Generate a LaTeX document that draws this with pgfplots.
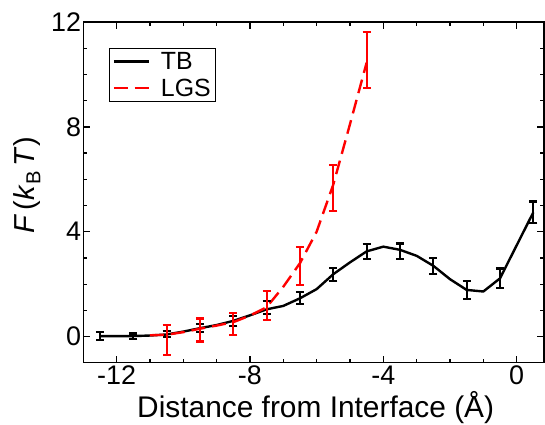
\documentclass[border=0pt]{standalone}
\usepackage{fontspec}
\setmainfont{Liberation Sans}
\usepackage{pgfplots}
\pgfplotsset{compat=1.18}
\usepackage{pgfplotstable}

% TB: curve and error bars
\pgfplotstableread{
x y
-12.5 0.02
-12 0.02
-11.5 0.02
-11 0.04
-10.5 0.08
-10 0.19
-9.5 0.32
-9 0.44
-8.5 0.60
-8 0.81
-7.5 1.04
-7 1.17
-6.5 1.46
-6 1.81
-5.5 2.38
-5 2.83
-4.5 3.25
-4 3.43
-3.5 3.31
-3 3.08
-2.5 2.70
-2 2.19
-1.5 1.78
-1 1.72
-0.5 2.22
0.5 4.74
}\tbline
\pgfplotstableread{
x y e
-12.5 0.02 0.15
-11.5 0.02 0.10
-10.5 0.09 0.12
-9.5 0.32 0.15
-8.5 0.60 0.20
-7.5 1.10 0.25
-6.5 1.46 0.23
-5.5 2.38 0.25
-4.5 3.25 0.28
-3.5 3.25 0.30
-2.5 2.70 0.30
-1.5 1.78 0.34
-0.5 2.22 0.38
0.5 4.74 0.41
}\tbbars

% LGS: curve and error bars
\pgfplotstableread{
x y
-11 0.05
-10.5 0.07
-10 0.17
-9.5 0.30
-9 0.42
-8.5 0.55
-8 0.80
-7.5 1.12
-7 1.90
-6.5 2.80
-6 4.00
-5.5 5.80
-5 8.10
-4.5 10.45
}\lgsline
\pgfplotstableread{
x y e
-10.5 -0.13 0.57
-9.5 0.25 0.44
-8.5 0.48 0.43
-7.5 1.18 0.56
-6.5 2.70 0.73
-5.5 5.66 0.87
-4.5 10.55 1.07
}\lgsbars

\begin{document}
\begin{tikzpicture}
\begin{axis}[
    name=ax,
    scale only axis,
    width=461bp, height=341bp,
    xmin=-13, xmax=0.82,
    ymin=-1, ymax=12,
    xtick={-12,-8,-4,0},
    ytick={0,4,8,12},
    minor x tick num=3,
    minor y tick num=3,
    tick align=inside,
    major tick length=7bp,
    minor tick length=4bp,
    axis line style={line width=1.3bp},
    every tick/.style={black,line width=1.3bp},
    /pgf/number format/assume math mode=true,
    tick label style={font=\fontsize{27}{27}\selectfont},
    yticklabel style={inner xsep=2bp},
    xticklabel style={inner ysep=3bp},
    xlabel={Distance from Interface (Å)},
    ylabel={\textit{F}\,(\textit{k}\textsubscript{B}\,\textit{T})},
    every axis x label/.style={at={(axis description cs:0.5045,0)},anchor=base,yshift=-55bp,font=\fontsize{30}{30}\selectfont},
    every axis y label/.style={at={(axis description cs:-0.1048,0.52)},anchor=base,rotate=90,font=\fontsize{29}{29}\selectfont},
    legend style={at={(axis description cs:0.056,0.925)},anchor=north west,
        draw=black,line width=1bp,font=\fontsize{25}{25}\selectfont,
        inner xsep=3bp,inner ysep=2bp,row sep=4bp,column sep=9bp},
    legend cell align=left,
    legend image code/.code={\draw[#1] (0bp,0bp) -- (35bp,0bp);},
]
\addplot[black,line width=2.4bp] table[x=x,y=y]{\tbline};
\addlegendentry{TB}
\addplot[red,line width=2.4bp,dash pattern=on 14bp off 7bp] table[x=x,y=y]{\lgsline};
\addlegendentry{LGS}
\addplot[draw=none,mark=none,forget plot,
    error bars/.cd,y dir=both,y explicit,
    error bar style={draw=black,solid,line width=2.2bp},
    error mark options={rotate=90,mark size=4bp,line width=2.2bp,draw=black}]
    table[x=x,y=y,y error=e]{\tbbars};
\addplot[draw=none,mark=none,forget plot,
    error bars/.cd,y dir=both,y explicit,
    error bar style={draw=red,solid,line width=2.2bp},
    error mark options={rotate=90,mark size=4bp,line width=2.2bp,draw=red}]
    table[x=x,y=y,y error=e]{\lgsbars};
\end{axis}
\pgfresetboundingbox
\path (ax.south west) ++(-83.3bp,-61.7bp) rectangle ([shift={(1bp,22bp)}]ax.north east);
\end{tikzpicture}
\end{document}
